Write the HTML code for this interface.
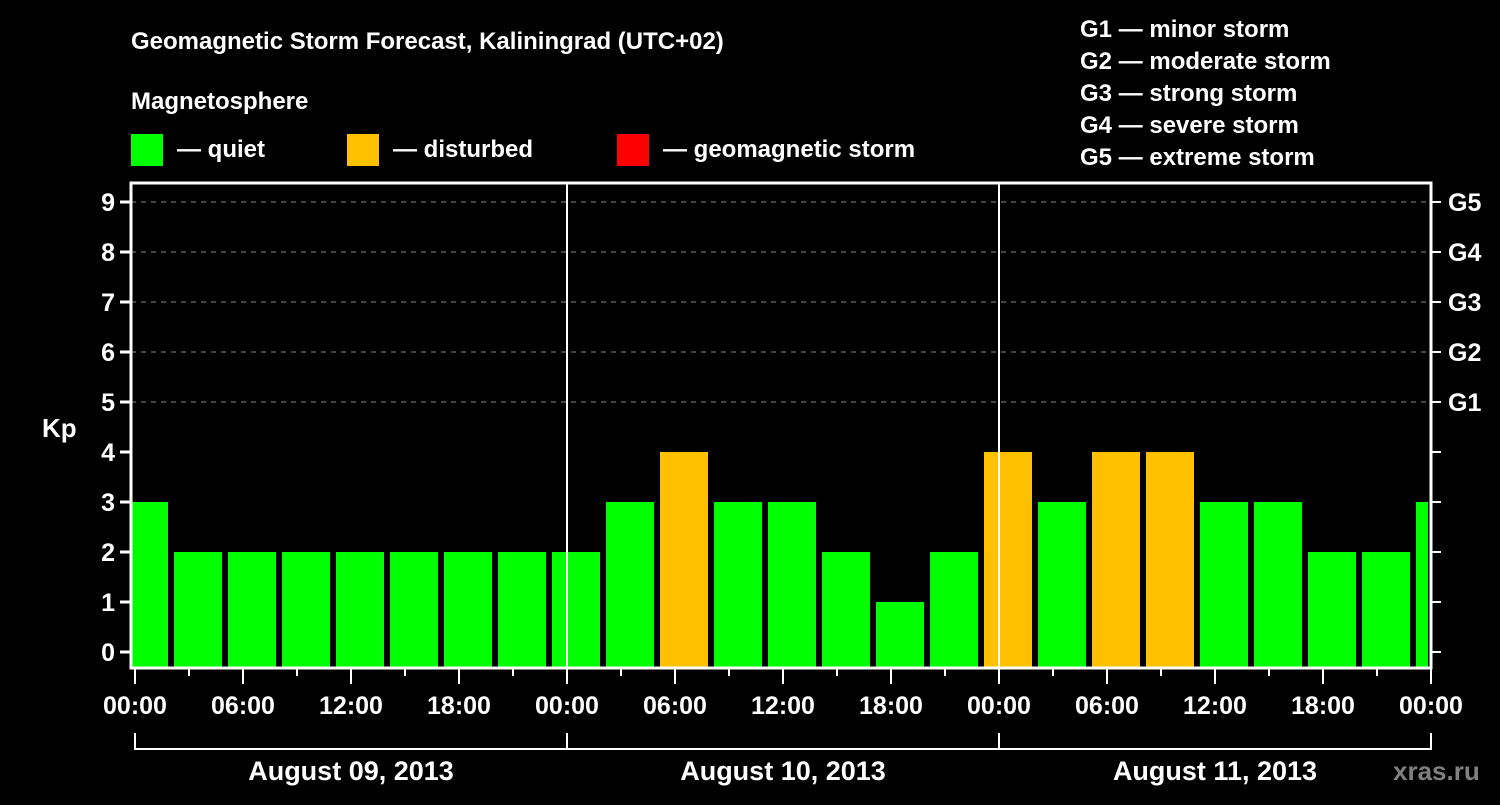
<!DOCTYPE html>
<html><head><meta charset="utf-8"><style>
html,body{margin:0;padding:0;background:#000;}
svg text{font-family:"Liberation Sans",sans-serif;font-weight:bold;fill:#fff;}
</style></head><body>
<svg id="chart" width="1500" height="800" viewBox="0 0 1500 800" xmlns="http://www.w3.org/2000/svg">
<rect width="1500" height="800" fill="#000"/>
<text x="131" y="49" font-size="24">Geomagnetic Storm Forecast, Kaliningrad (UTC+02)</text>
<text x="131" y="109" font-size="24">Magnetosphere</text>
<rect x="131" y="134" width="32" height="32" fill="#00ff00"/>
<text x="177" y="157" font-size="24">— quiet</text>
<rect x="347" y="134" width="32" height="32" fill="#ffc000"/>
<text x="393" y="157" font-size="24">— disturbed</text>
<rect x="617" y="134" width="32" height="32" fill="#ff0000"/>
<text x="663" y="157" font-size="24">— geomagnetic storm</text>
<g font-size="24">
<text x="1080" y="37">G1 — minor storm</text>
<text x="1080" y="69">G2 — moderate storm</text>
<text x="1080" y="101">G3 — strong storm</text>
<text x="1080" y="133">G4 — severe storm</text>
<text x="1080" y="165">G5 — extreme storm</text>
</g>
<text x="42" y="437" font-size="26">Kp</text>
<text x="1393" y="780" font-size="26" style="fill:#808080">xras.ru</text>
<g id="marks"></g>
</svg>
<script>
const kpValues=[3,2,2,2,2,2,2,2,2,3,4,3,3,2,1,2,4,3,4,4,3,3,2,2,3];
const yTicks=[0,1,2,3,4,5,6,7,8,9];
const gLabels=["G1","G2","G3","G4","G5"];
const timeLabels=["00:00","06:00","12:00","18:00","00:00","06:00","12:00","18:00","00:00","06:00","12:00","18:00","00:00"];
const dayLabels=["August 09, 2013","August 10, 2013","August 11, 2013"];
const NS="http://www.w3.org/2000/svg";
const g=document.getElementById('marks');
const L=131,R=1431,T=183,B=668,X0=135,PXH=18;
const xh=h=>X0+h*PXH;
const yv=v=>652-v*50;
function mk(t,a){const e=document.createElementNS(NS,t);for(const k in a)e.setAttribute(k,a[k]);g.appendChild(e);return e;}
// grid
[5,6,7,8,9].forEach(v=>{
const l=mk('line',{x1:L,x2:R,y1:yv(v),y2:yv(v),stroke:'#888','stroke-width':1,'stroke-dasharray':'5,5'});


});
// clip
const cp=mk('clipPath',{id:'pc'});mk('rect',{x:L+1,y:T,width:R-L-3,height:B-T}).remove();
const cr=document.createElementNS(NS,'rect');cr.setAttribute('x',L+1);cr.setAttribute('y',T);cr.setAttribute('width',R-L-4);cr.setAttribute('height',B-T);cp.appendChild(cr);
const bg=mk('g',{'clip-path':'url(#pc)'});
kpValues.forEach((v,i)=>{
const c=xh(i*3+0.5);
const r=document.createElementNS(NS,'rect');
r.setAttribute('x',c-24);r.setAttribute('width',48);
r.setAttribute('y',yv(v));r.setAttribute('height',B-yv(v));
r.setAttribute('fill',v>=5?'#ff0000':(v>=4?'#ffc000':'#00ff00'));


bg.appendChild(r);
});
// day dividers
[1,2].forEach(d=>{const l=mk('line',{x1:xh(d*24),x2:xh(d*24),y1:T,y2:B,stroke:'#fff','stroke-width':2});

});
// frame
const f=mk('rect',{x:L,y:T,width:R-L,height:B-T,fill:'none',stroke:'#fff','stroke-width':3});


// y ticks
yTicks.forEach(v=>{
mk('line',{x1:120,x2:L,y1:yv(v),y2:yv(v),stroke:'#fff','stroke-width':3});
const t=mk('text',{x:115,y:yv(v)+9,'font-size':25,'text-anchor':'end'});t.textContent=v;


if(v<5) mk('line',{x1:R,x2:1441,y1:yv(v),y2:yv(v),stroke:'#fff','stroke-width':2});
});
gLabels.forEach((s,i)=>{
const y=yv(5+i);
mk('line',{x1:R,x2:1441,y1:y,y2:y,stroke:'#fff','stroke-width':2});
const t=mk('text',{x:1448,y:y+9,'font-size':25});t.textContent=s;


});
// x ticks
for(let h=0;h<=72;h+=3){
const maj=h%6===0;
mk('line',{x1:xh(h),x2:xh(h),y1:B,y2:B+(maj?16:8),stroke:'#fff','stroke-width':2});
}
timeLabels.forEach((s,i)=>{
const t=mk('text',{x:xh(i*6),y:714,'font-size':25,'text-anchor':'middle'});t.textContent=s;


});
// bracket
mk('line',{x1:xh(0),x2:xh(72),y1:749,y2:749,stroke:'#fff','stroke-width':2});
for(let d=0;d<=3;d++)mk('line',{x1:xh(d*24),x2:xh(d*24),y1:733,y2:750,stroke:'#fff','stroke-width':2});
dayLabels.forEach((s,i)=>{
const t=mk('text',{x:xh(i*24+12),y:780,'font-size':27,'text-anchor':'middle'});t.textContent=s;


});
</script>
</body></html>
